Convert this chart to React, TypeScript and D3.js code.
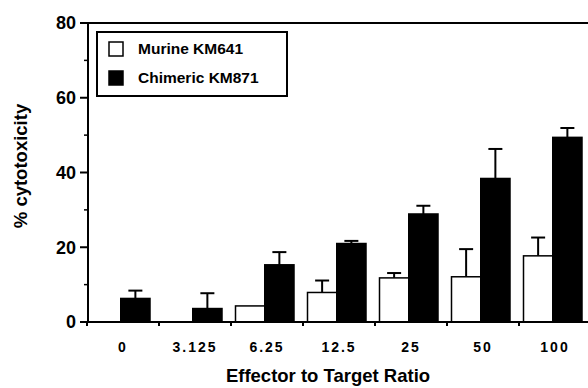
import * as d3 from "d3";

const ratios = ["0", "3.125", "6.25", "12.5", "25", "50", "100"];
const murine = [0, 0, 4.3, 7.9, 11.8, 12.1, 17.7];
const murineErr = [0, 0, 0, 3.2, 1.3, 7.4, 4.9];
const chimeric = [6.3, 3.6, 15.3, 21.0, 28.9, 38.4, 49.4];
const chimericErr = [2.1, 4.1, 3.4, 0.7, 2.2, 7.9, 2.5];
const yTicks = [0, 20, 40, 60, 80];
const yMinor = [10, 30, 50, 70];
const seriesNames = ["Murine KM641", "Chimeric KM871"];

const W = 588;
const H = 388;
const font = "'Liberation Sans', Arial, Helvetica, sans-serif";

export default function App() {
  const x0 = d3.scaleBand<string>().domain(ratios).range([87, 591]).padding(0);
  const x1 = d3.scaleBand<string>().domain(["m", "c"]).range([4.5, 63]);
  const y = d3.scaleLinear().domain([0, 80]).range([322, 23]);

  const series = [
    { key: "m", values: murine, errs: murineErr, fill: "#fff" },
    { key: "c", values: chimeric, errs: chimericErr, fill: "#000" },
  ];

  return (
    <svg width={W} height={H} style={{ position: "fixed", left: 0, top: 0, background: "#fff" }} fontFamily={font}>
      {/* top frame line */}
      <line x1={88} x2={W} y1={y(80)} y2={y(80)} stroke="#000" strokeWidth={2} />

      {/* bars */}
      {series.map((s) =>
        s.values.map((v, i) => {
          const bx = x0(ratios[i])! + x1(s.key)!;
          const bw = x1.bandwidth();
          if (v <= 0) return null;
          const top = y(v);
          const cx = bx + bw / 2;
          const eTop = y(v + s.errs[i]);
          return (
            <g key={s.key + i}>
              {s.errs[i] > 0 && (
                <g stroke="#000" strokeWidth={2}>
                  <line x1={cx} x2={cx} y1={top} y2={eTop} />
                  <line x1={cx - 7} x2={cx + 7} y1={eTop} y2={eTop} />
                </g>
              )}
              <rect x={bx} y={top} width={bw} height={y(0) - top} fill={s.fill} stroke="#000" strokeWidth={1.5} />
            </g>
          );
        })
      )}

      {/* y axis */}
      <line x1={88} x2={88} y1={y(80) - 1} y2={y(0) + 1} stroke="#000" strokeWidth={2} />
      {yTicks.map((t) => (
        <g key={t}>
          <line x1={80} x2={88} y1={y(t)} y2={y(t)} stroke="#000" strokeWidth={2} />
          <text x={76} y={y(t)} dy="0.35em" textAnchor="end" fontSize={18} fontWeight="bold">
            {t}
          </text>
        </g>
      ))}
      {yMinor.map((t) => (
        <line key={t} x1={84} x2={88} y1={y(t)} y2={y(t)} stroke="#000" strokeWidth={1.5} />
      ))}

      {/* x axis */}
      <line x1={80} x2={W} y1={y(0)} y2={y(0)} stroke="#000" strokeWidth={2} />
      {ratios.map((r) => (
        <g key={r}>
          <line x1={x0(r)!} x2={x0(r)!} y1={y(0)} y2={y(0) + 4} stroke="#000" strokeWidth={2} />
          <text
            x={x0(r)! + x0.bandwidth() / 2}
            y={352}
            textAnchor="middle"
            fontSize={14}
            fontWeight="bold"
            letterSpacing={2}
          >
            {r}
          </text>
        </g>
      ))}

      {/* axis titles */}
      <text x={328} y={382} textAnchor="middle" fontSize={18.5} fontWeight="bold">
        Effector to Target Ratio
      </text>
      <text transform={`translate(27,166) rotate(-90)`} textAnchor="middle" fontSize={18.5} fontWeight="bold">
        % cytotoxicity
      </text>

      {/* legend */}
      <rect x={97} y={32} width={190} height={64} fill="#fff" stroke="#000" strokeWidth={2} />
      {seriesNames.map((n, i) => (
        <g key={n} transform={`translate(109,${49 + i * 29})`}>
          <rect x={0} y={-7} width={14} height={14} fill={series[i].fill} stroke="#000" strokeWidth={1.5} />
          <text x={29} y={0} dy="0.35em" fontSize={15.5} fontWeight="bold">
            {n}
          </text>
        </g>
      ))}
    </svg>
  );
}
